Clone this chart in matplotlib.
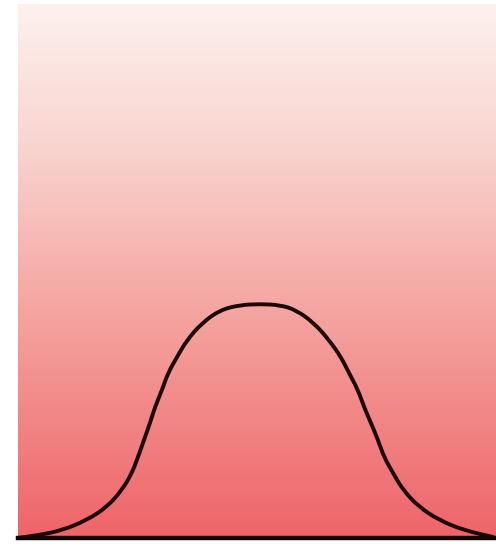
import numpy as np
import matplotlib
matplotlib.use("Agg")
import matplotlib.pyplot as plt
from matplotlib.colors import LinearSegmentedColormap
from matplotlib.path import Path
from matplotlib.patches import PathPatch

# curve (x along the base, y height above the base line)
curve_x = [0, 22, 45, 69, 89, 104, 114, 120, 126, 132, 137, 144, 150, 159,
           169, 184, 202, 222, 242, 262, 278, 296, 311, 323, 331, 340, 346,
           353, 360, 366, 375, 385, 401, 421, 445, 475]
curve_y = [0, 3, 8, 18, 31, 48, 65, 81, 98, 115, 131, 148, 165, 181,
           198, 215, 228, 233, 234, 233, 228, 215, 198, 181, 165, 148, 131,
           115, 98, 81, 65, 48, 31, 18, 8, 1]

# background shading, top to bottom
shade_stops = [0.0, 0.25, 0.5, 0.75, 1.0]
shade_colors = ["#fdf1ed", "#f9d6d1", "#f6b0ab", "#f28a89", "#ee6468"]

fig = plt.figure(figsize=(4.96, 5.46), dpi=100)
ax = fig.add_axes([18 / 496, 8 / 546, 478 / 496, 534 / 546])

cmap = LinearSegmentedColormap.from_list("bg", list(zip(shade_stops, shade_colors)))
grad = np.linspace(0, 1, 256).reshape(-1, 1)
ax.imshow(grad, cmap=cmap, aspect="auto", extent=[0, 478, 0, 534],
          origin="upper", zorder=0)

# smooth path through the read points: each point is a quadratic control
# point, segments join at the midpoints between neighbours
pts = list(zip(curve_x, curve_y))
verts = [pts[0]]
codes = [Path.MOVETO]
for i in range(1, len(pts) - 1):
    mid = ((pts[i][0] + pts[i + 1][0]) / 2, (pts[i][1] + pts[i + 1][1]) / 2)
    verts += [pts[i], mid]
    codes += [Path.CURVE3, Path.CURVE3]
verts.append(pts[-1])
codes.append(Path.LINETO)
ax.add_patch(PathPatch(Path(verts, codes), fill=False, edgecolor="#1c0606",
                       lw=2.8, joinstyle="round", capstyle="round",
                       zorder=2, clip_on=False))

ax.axhline(0, color="#140404", lw=3.2, zorder=3, clip_on=False)

ax.set_xlim(0, 478)
ax.set_ylim(0, 534)
ax.axis("off")

fig.savefig("out.png", dpi=100)
